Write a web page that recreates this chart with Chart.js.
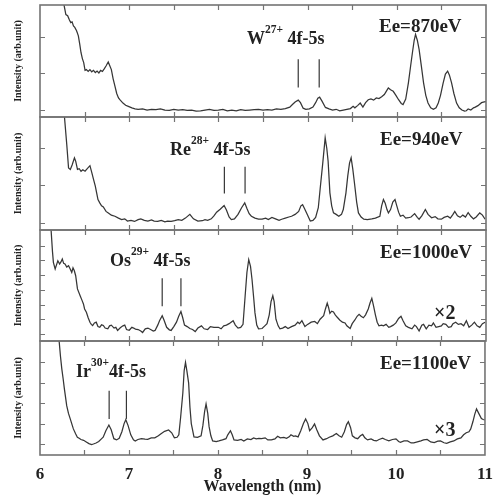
<!DOCTYPE html>
<html><head><meta charset="utf-8">
<script src="https://cdn.jsdelivr.net/npm/chart.js@4.4.1/dist/chart.umd.min.js"></script>
<style>
html,body{margin:0;padding:0;background:#fff;}
#wrap{position:relative;width:502px;height:499px;overflow:hidden;background:#fff;}
canvas{position:absolute;left:0;}
.lbl{position:absolute;font-family:'Liberation Serif',serif;font-weight:bold;color:#222;white-space:nowrap;}
.lbl .sp{font-size:11.5px;position:relative;top:-11px;}
</style></head><body>
<div id="wrap">
<canvas id="c1" width="502" height="118" style="top:2px"></canvas>
<canvas id="c2" width="502" height="119" style="top:114px"></canvas>
<canvas id="c3" width="502" height="117" style="top:227px"></canvas>
<canvas id="c4" width="502" height="161" style="top:338px"></canvas>

<div class="lbl" style="left:379px;top:15.6px;font-size:19px;line-height:19px;">Ee=870eV</div>
<div class="lbl" style="left:247px;top:29px;font-size:18px;line-height:18px;">W<span class="sp">27+</span> 4f-5s</div>

<div class="lbl" style="left:380px;top:128.6px;font-size:19px;line-height:19px;">Ee=940eV</div>
<div class="lbl" style="left:170px;top:140px;font-size:18px;line-height:18px;">Re<span class="sp">28+</span> 4f-5s</div>

<div class="lbl" style="left:380px;top:242px;font-size:19px;line-height:19px;">Ee=1000eV</div>
<div class="lbl" style="left:110px;top:251px;font-size:18px;line-height:18px;">Os<span class="sp">29+</span> 4f-5s</div>
<div class="lbl" style="left:434px;top:302px;font-size:20px;line-height:20px;">×2</div>

<div class="lbl" style="left:76px;top:362px;font-size:18px;line-height:18px;">Ir<span class="sp">30+</span>4f-5s</div>
<div class="lbl" style="left:380px;top:353px;font-size:19px;line-height:19px;">Ee=1100eV</div>
<div class="lbl" style="left:434px;top:419px;font-size:20px;line-height:20px;">×3</div>
</div>
<script>
// ---------- data (wavelength in nm, intensity in arbitrary units = y tick steps) ----------
const wl1 = [6.22,6.27,6.29,6.31,6.33,6.345,6.36,6.375,6.39,6.41,6.43,6.445,6.46,6.475,6.49,6.505,6.52,6.54,6.56,6.58,6.60,6.62,6.64,6.66,6.68,6.70,6.72,6.74,6.765,6.78,6.80,6.82,6.84,6.86,6.88,6.90,6.93,6.96,6.99,7.03,7.065,7.10,7.15,7.20,7.25,7.30,7.35,7.40,7.45,7.50,7.55,7.60,7.65,7.70,7.75,7.80,7.85,7.90,7.95,8.00,8.05,8.10,8.15,8.20,8.25,8.30,8.35,8.40,8.45,8.50,8.55,8.60,8.65,8.70,8.75,8.80,8.83,8.86,8.895,8.92,8.95,8.98,9.02,9.06,9.09,9.115,9.135,9.16,9.20,9.24,9.28,9.32,9.36,9.40,9.44,9.48,9.51,9.53,9.56,9.59,9.62,9.65,9.68,9.71,9.74,9.77,9.80,9.83,9.86,9.88,9.905,9.93,9.96,9.99,10.02,10.05,10.07,10.10,10.13,10.155,10.175,10.195,10.21,10.23,10.25,10.275,10.30,10.325,10.35,10.38,10.41,10.44,10.465,10.49,10.52,10.545,10.57,10.59,10.614,10.64,10.67,10.70,10.73,10.76,10.78,10.80,10.83,10.86,10.88,10.91,10.95,10.98,11.0];
const in1 = [3.4,2.85,2.6,2.57,2.45,2.38,2.4,2.29,2.25,2.16,2.02,1.8,1.56,1.4,1.29,1.08,1.1,1.05,1.1,1.04,1.08,1.02,1.06,1.01,1.08,1.05,1.12,1.2,1.31,1.22,1.1,0.85,0.65,0.45,0.33,0.27,0.19,0.13,0.1,0.06,0.03,0.02,0.03,0.0,0.02,0.01,0.03,0.0,-0.01,0.02,0.0,0.01,-0.01,0.0,-0.03,-0.02,0.0,0.02,-0.01,0.0,0.02,-0.02,0.0,-0.02,0.01,-0.01,0.0,0.01,0.02,0.0,0.01,0.0,0.03,0.02,0.04,0.08,0.15,0.22,0.27,0.2,0.05,0.02,0.03,0.08,0.2,0.32,0.35,0.25,0.07,0.03,0.0,0.02,-0.02,0.0,0.02,0.04,0.1,0.06,0.12,0.19,0.08,0.2,0.28,0.3,0.27,0.33,0.31,0.36,0.42,0.5,0.6,0.55,0.51,0.4,0.28,0.18,0.15,0.3,0.74,1.2,1.56,1.9,2.06,1.9,1.65,1.2,0.74,0.4,0.19,0.06,0.02,0.06,0.19,0.4,0.74,0.98,1.06,0.95,0.74,0.45,0.19,0.06,0.0,-0.03,-0.02,0.03,0.0,0.06,0.08,0.12,0.2,0.22,0.23];

const wl2 = [6.25,6.274,6.30,6.32,6.34,6.36,6.386,6.40,6.42,6.44,6.46,6.48,6.505,6.53,6.56,6.58,6.60,6.62,6.635,6.65,6.67,6.69,6.71,6.74,6.766,6.80,6.84,6.88,6.915,6.95,6.98,7.02,7.06,7.10,7.13,7.17,7.21,7.25,7.28,7.32,7.36,7.40,7.43,7.47,7.51,7.55,7.59,7.63,7.68,7.72,7.77,7.82,7.85,7.88,7.92,7.95,7.98,8.02,8.064,8.09,8.12,8.145,8.18,8.22,8.26,8.295,8.32,8.345,8.37,8.41,8.45,8.49,8.53,8.56,8.60,8.64,8.68,8.71,8.75,8.79,8.82,8.86,8.90,8.925,8.944,8.965,8.99,9.03,9.06,9.09,9.12,9.14,9.17,9.197,9.215,9.23,9.25,9.27,9.29,9.32,9.35,9.38,9.40,9.43,9.45,9.47,9.488,9.506,9.526,9.55,9.57,9.60,9.63,9.67,9.72,9.76,9.81,9.83,9.85,9.87,9.89,9.906,9.93,9.955,9.98,10.00,10.02,10.04,10.07,10.10,10.13,10.16,10.20,10.23,10.25,10.28,10.32,10.35,10.39,10.43,10.46,10.50,10.53,10.57,10.60,10.63,10.65,10.68,10.71,10.74,10.77,10.80,10.83,10.86,10.89,10.93,10.96,10.99];
const in2 = [3.5,2.85,2.1,1.47,1.43,1.55,1.74,1.65,1.43,1.45,1.38,1.42,1.38,1.45,1.53,1.35,1.16,0.98,0.8,0.62,0.53,0.45,0.42,0.3,0.26,0.2,0.17,0.12,0.08,0.1,0.04,0.06,0.03,0.08,0.1,0.06,0.04,0.07,0.04,0.03,0.06,0.02,0.04,0.03,0.05,0.08,0.06,0.12,0.22,0.1,0.04,0.05,0.08,0.06,0.1,0.18,0.28,0.36,0.46,0.34,0.15,0.08,0.1,0.22,0.4,0.53,0.38,0.24,0.17,0.12,0.09,0.09,0.12,0.08,0.14,0.1,0.06,0.09,0.12,0.15,0.17,0.22,0.3,0.45,0.48,0.38,0.25,0.04,0.06,0.14,0.4,0.89,1.6,2.28,2.0,1.65,0.8,0.45,0.26,0.22,0.17,0.22,0.35,0.8,1.25,1.6,1.74,1.45,1.05,0.55,0.26,0.15,0.09,0.08,0.1,0.12,0.17,0.45,0.62,0.52,0.35,0.26,0.35,0.55,0.62,0.45,0.28,0.17,0.2,0.12,0.13,0.15,0.24,0.14,0.09,0.18,0.35,0.22,0.13,0.16,0.1,0.09,0.14,0.17,0.12,0.22,0.3,0.18,0.14,0.2,0.15,0.27,0.17,0.1,0.15,0.26,0.2,0.09];

const wl3 = [6.10,6.125,6.14,6.15,6.17,6.185,6.20,6.22,6.235,6.25,6.265,6.28,6.30,6.32,6.34,6.356,6.37,6.385,6.40,6.42,6.45,6.47,6.487,6.50,6.52,6.54,6.56,6.575,6.59,6.61,6.63,6.65,6.67,6.69,6.71,6.73,6.76,6.78,6.80,6.83,6.85,6.87,6.90,6.93,6.95,6.97,7.00,7.03,7.05,7.07,7.10,7.13,7.15,7.18,7.21,7.24,7.27,7.29,7.32,7.34,7.37,7.39,7.42,7.45,7.47,7.50,7.53,7.555,7.58,7.60,7.62,7.65,7.68,7.71,7.74,7.77,7.81,7.84,7.88,7.91,7.95,8.00,8.03,8.06,8.09,8.12,8.165,8.19,8.22,8.25,8.276,8.30,8.32,8.34,8.36,8.377,8.395,8.41,8.43,8.45,8.49,8.52,8.545,8.57,8.59,8.61,8.625,8.645,8.67,8.69,8.72,8.75,8.78,8.82,8.86,8.89,8.91,8.936,8.97,9.00,9.04,9.08,9.11,9.14,9.18,9.20,9.22,9.235,9.25,9.27,9.29,9.31,9.33,9.36,9.39,9.42,9.44,9.477,9.50,9.53,9.555,9.577,9.60,9.625,9.65,9.68,9.70,9.72,9.74,9.76,9.78,9.80,9.83,9.85,9.88,9.91,9.93,9.96,9.99,10.02,10.047,10.07,10.10,10.13,10.17,10.20,10.22,10.25,10.28,10.30,10.33,10.36,10.39,10.41,10.44,10.47,10.50,10.52,10.55,10.58,10.61,10.63,10.66,10.69,10.72,10.75,10.78,10.81,10.84,10.87,10.90,10.93,10.96,10.99];
const in3 = [7.8,7.0,5.6,4.87,4.42,4.7,4.98,4.76,4.9,5.1,4.8,4.76,4.55,4.64,4.4,4.19,4.5,4.3,3.96,3.06,2.6,2.3,2.04,1.7,1.47,1.1,0.79,0.65,0.57,0.75,0.8,0.5,0.45,0.62,0.58,0.4,0.35,0.55,0.6,0.4,0.45,0.24,0.42,0.55,0.6,0.3,0.25,0.45,0.4,0.33,0.3,0.2,0.1,0.35,0.4,0.3,0.2,0.24,0.6,0.9,1.24,0.95,0.45,0.28,0.24,0.5,0.8,1.2,1.52,1.1,0.6,0.5,0.37,0.3,0.16,0.4,0.55,0.35,0.3,0.5,0.45,0.45,0.35,0.55,0.6,0.7,0.9,0.6,0.4,0.45,0.65,2.6,4.2,5.05,4.6,3.7,2.5,1.43,0.6,0.35,0.37,0.55,0.7,1.3,2.2,2.6,2.2,1.0,0.55,0.35,0.4,0.5,0.37,0.5,0.6,0.8,0.7,0.9,0.5,0.65,0.8,0.85,0.7,1.0,1.25,1.7,2.1,1.8,1.4,1.55,1.5,1.3,1.15,0.95,0.8,0.75,0.55,0.37,0.7,0.95,1.2,1.33,1.2,1.1,1.3,1.7,2.1,2.42,1.9,1.3,0.8,0.55,0.6,0.55,0.65,0.45,0.5,0.6,0.75,1.05,1.2,0.9,0.55,0.45,0.35,0.6,0.5,0.2,0.6,0.65,0.35,0.6,0.55,0.75,0.45,0.5,0.55,0.7,0.65,0.45,0.5,0.7,0.8,0.65,0.7,0.55,0.9,0.45,0.6,0.8,0.55,0.45,0.7,0.8];

const wl4 = [6.19,6.215,6.23,6.245,6.26,6.274,6.29,6.30,6.32,6.34,6.36,6.375,6.40,6.42,6.44,6.46,6.49,6.52,6.55,6.58,6.60,6.63,6.66,6.69,6.71,6.74,6.774,6.80,6.83,6.86,6.89,6.92,6.945,6.964,6.99,7.02,7.05,7.07,7.10,7.14,7.18,7.21,7.25,7.29,7.33,7.36,7.40,7.445,7.48,7.51,7.54,7.56,7.58,7.605,7.62,7.635,7.65,7.67,7.685,7.70,7.73,7.77,7.81,7.83,7.85,7.866,7.885,7.90,7.92,7.94,7.98,8.01,8.05,8.09,8.11,8.14,8.16,8.18,8.22,8.26,8.29,8.33,8.37,8.40,8.43,8.46,8.49,8.53,8.56,8.60,8.64,8.67,8.70,8.74,8.77,8.80,8.82,8.85,8.87,8.90,8.93,8.96,8.985,9.01,9.03,9.06,9.085,9.11,9.14,9.18,9.22,9.25,9.29,9.33,9.36,9.39,9.42,9.445,9.465,9.49,9.51,9.54,9.57,9.60,9.626,9.65,9.68,9.72,9.75,9.78,9.81,9.85,9.88,9.92,9.96,10.00,10.03,10.05,10.09,10.13,10.17,10.20,10.24,10.28,10.31,10.35,10.39,10.43,10.47,10.50,10.54,10.57,10.61,10.65,10.69,10.73,10.76,10.79,10.82,10.84,10.865,10.885,10.905,10.93,10.96,10.98,11.0];
const in4 = [6.5,5.05,4.3,3.68,3.2,2.7,2.2,1.88,1.5,1.23,0.95,0.74,0.5,0.33,0.28,0.22,0.18,0.1,0.02,-0.03,0.0,0.05,0.12,0.25,0.33,0.65,0.93,0.7,0.26,0.2,0.28,0.6,1.0,1.19,0.9,0.45,0.2,0.15,0.22,0.26,0.24,0.23,0.3,0.3,0.4,0.5,0.62,0.69,0.55,0.3,0.33,0.45,1.3,2.5,3.6,4.0,3.6,3.0,1.8,1.0,0.35,0.33,0.4,0.9,1.6,1.96,1.5,0.85,0.4,0.15,0.12,0.15,0.2,0.26,0.45,0.65,0.45,0.2,0.18,0.22,0.15,0.25,0.22,0.3,0.25,0.28,0.26,0.3,0.2,0.2,0.25,0.38,0.3,0.32,0.28,0.35,0.45,0.38,0.4,0.35,0.65,1.0,1.23,1.0,0.65,0.8,0.98,0.7,0.4,0.2,0.26,0.33,0.4,0.51,0.4,0.33,0.6,0.95,1.09,0.8,0.4,0.3,0.26,0.4,0.47,0.3,0.2,0.25,0.18,0.15,0.22,0.28,0.22,0.15,0.22,0.25,0.12,0.08,0.15,0.15,0.05,0.05,0.1,0.15,0.2,0.22,0.1,0.07,0.14,0.15,0.06,0.03,0.1,0.15,0.25,0.3,0.45,0.55,0.6,0.74,1.1,1.45,1.72,1.5,1.25,1.2,1.18];

// line-identification markers (wavelength, and low/high intensity of the tick)
const marks1 = [8.895, 9.13],  markSpan1 = [0.61, 1.38];
const marks2 = [8.067, 8.299], markSpan2 = [0.78, 1.5];
const marks3 = [7.37, 7.58],   markSpan3 = [1.88, 3.78];
const marks4 = [6.777, 6.971], markSpan4 = [1.23, 2.61];

// y ranges of each panel (arbitrary units)
const yRange1 = [-0.19, 2.86];
const yRange2 = [-0.2, 2.84];
const yRange3 = [-0.48, 7.07];
const yRange4 = [-0.54, 5.05];

const xRange = [6, 11];
const yTitle = 'Intensity (arb.unit)';
const xTitle = 'Wavelength (nm)';

// ---------- drawing ----------
const SERIF = "'Liberation Serif', 'Times New Roman', serif";
const LINE = '#363636';
const FRAME = '#747474';

const framePlugin = {
  id: 'frame',
  afterDatasetsDraw(chart) {
    const {ctx, chartArea: a, scales: {x, y}} = chart;
    ctx.save();
    ctx.strokeStyle = FRAME;
    ctx.lineWidth = 1.2;
    ctx.beginPath();
    for (let v = xRange[0] + 0.5; v < xRange[1]; v += 0.5) {
      const px = Math.round(x.getPixelForValue(v)) + 0.5;
      ctx.moveTo(px, a.top); ctx.lineTo(px, a.top + 5);
      ctx.moveTo(px, a.bottom); ctx.lineTo(px, a.bottom - 5);
    }
    for (let v = Math.ceil(y.min); v <= Math.floor(y.max); v++) {
      const py = Math.round(y.getPixelForValue(v)) + 0.5;
      if (py < a.top + 3 || py > a.bottom - 3) continue;
      ctx.moveTo(a.left, py); ctx.lineTo(a.left + 5, py);
      ctx.moveTo(a.right, py); ctx.lineTo(a.right - 5, py);
    }
    ctx.stroke();
    ctx.lineWidth = 1.6;
    ctx.strokeRect(a.left, a.top, a.right - a.left, a.bottom - a.top);
    ctx.restore();
  }
};

function makePanel(id, wl, inten, marks, span, yr, padTop, padBottom, isBottom) {
  const datasets = [{
    data: wl.map((w, i) => ({x: w, y: inten[i]})),
    borderColor: LINE, borderWidth: 1.25, pointRadius: 0, tension: 0, fill: false
  }];
  marks.forEach(m => datasets.push({
    data: [{x: m, y: span[0]}, {x: m, y: span[1]}],
    borderColor: LINE, borderWidth: 1.2, pointRadius: 0, fill: false
  }));
  new Chart(document.getElementById(id), {
    type: 'line',
    data: {datasets},
    options: {
      animation: false, responsive: false, devicePixelRatio: 1,
      layout: {padding: {top: padTop, bottom: padBottom, left: 0, right: 16}},
      plugins: {legend: {display: false}, tooltip: {enabled: false}},
      scales: {
        x: {
          type: 'linear', min: xRange[0], max: xRange[1], display: isBottom,
          grid: {display: false, drawTicks: false}, border: {display: false},
          ticks: {stepSize: 1, padding: 9, color: '#222', maxRotation: 0,
                  font: {family: SERIF, size: 17, weight: 'bold'}},
          title: {display: true, text: xTitle, color: '#222', padding: {top: 0, bottom: 3},
                  font: {family: SERIF, size: 16, weight: 'bold'}},
          afterFit(s) { if (isBottom) s.height = 44; }
        },
        y: {
          type: 'linear', min: yr[0], max: yr[1],
          grid: {display: false, drawTicks: false}, border: {display: false},
          ticks: {display: false},
          title: {display: true, text: yTitle, color: '#222', padding: {top: 12, bottom: 0},
                  font: {family: SERIF, size: 10, weight: 'bold'}},
          afterFit(s) { s.width = 40; }
        }
      }
    },
    plugins: [framePlugin]
  });
}

makePanel('c1', wl1, in1, marks1, markSpan1, yRange1, 3, 3, false);
makePanel('c2', wl2, in2, marks2, markSpan2, yRange2, 3, 3, false);
makePanel('c3', wl3, in3, marks3, markSpan3, yRange3, 3, 3, false);
makePanel('c4', wl4, in4, marks4, markSpan4, yRange4, 3, 0, true);
</script>
</body></html>
